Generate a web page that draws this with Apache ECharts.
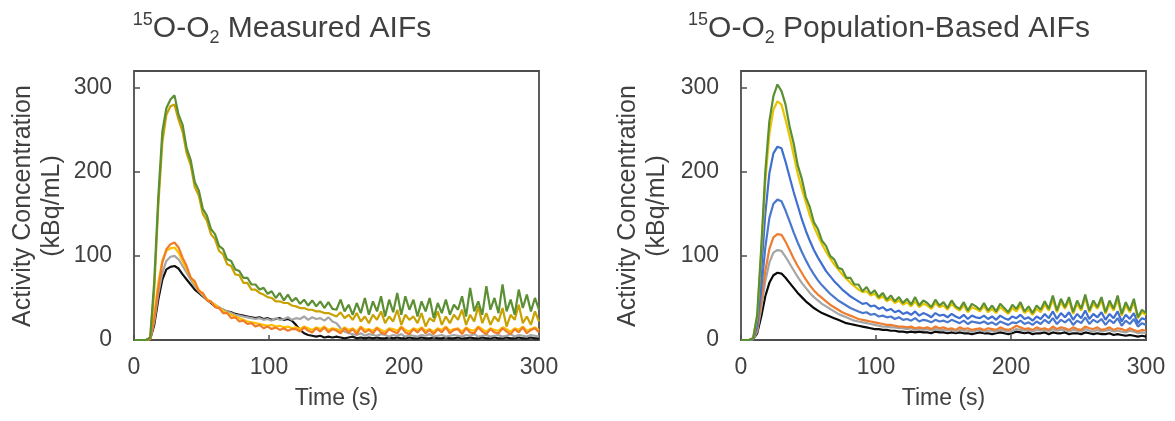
<!DOCTYPE html>
<html>
<head>
<meta charset="utf-8">
<script src="https://cdn.jsdelivr.net/npm/echarts@6/dist/echarts.min.js"></script>
<style>
  html, body { margin: 0; padding: 0; background: #fff; }
  #main { width: 1175px; height: 421px; }
</style>
</head>
<body>
<div id="main"></div>
<script>
// time points (s), every 3 s
const times = [
  0, 3, 6, 9, 12, 15, 18, 21, 24, 27,
  30, 33, 36, 39, 42, 45, 48, 51, 54, 57,
  60, 63, 66, 69, 72, 75, 78, 81, 84, 87,
  90, 93, 96, 99, 102, 105, 108, 111, 114, 117,
  120, 123, 126, 129, 132, 135, 138, 141, 144, 147,
  150, 153, 156, 159, 162, 165, 168, 171, 174, 177,
  180, 183, 186, 189, 192, 195, 198, 201, 204, 207,
  210, 213, 216, 219, 222, 225, 228, 231, 234, 237,
  240, 243, 246, 249, 252, 255, 258, 261, 264, 267,
  270, 273, 276, 279, 282, 285, 288, 291, 294, 297,
  300
];

// measured AIFs (kBq/mL)
const mBlack = [
  0, 0, 0, 0, 1, 18, 48, 72, 84, 87,
  88, 85, 78, 72, 66, 60, 56, 52, 48, 44,
  40, 38, 36, 34, 33, 31, 30, 29, 28, 27,
  26, 27, 25, 26, 24, 25, 26, 24, 25, 23,
  18, 12, 8, 6, 5, 4, 5, 3, 4, 3,
  4, 3, 2, 3, 4, 2, 3, 2, 3, 2,
  3, 2, 2, 3, 2, 3, 2, 2, 3, 2,
  2, 3, 2, 2, 3, 2, 2, 3, 2, 2,
  3, 2, 2, 3, 2, 2, 3, 2, 2, 3,
  2, 2, 3, 2, 2, 3, 2, 2, 3, 2,
  2
];
const mGray = [
  0, 0, 0, 0, 1, 22, 55, 80, 94, 99,
  100, 96, 88, 80, 72, 64, 58, 53, 48, 45,
  42, 39, 36, 34, 32, 30, 29, 28, 27, 26,
  25, 26, 24, 25, 23, 26, 24, 25, 27, 24,
  26, 25, 28, 24, 27, 25, 26, 23, 27, 22,
  20, 14, 10, 8, 7, 6, 8, 5, 7, 6,
  5, 7, 6, 4, 6, 5, 7, 4, 6, 5,
  4, 6, 5, 7, 4, 5, 6, 4, 5, 6,
  5, 4, 6, 5, 7, 4, 5, 6, 4, 5,
  6, 4, 5, 7, 4, 6, 5, 4, 6, 5,
  4
];
const mYellow = [
  0, 0, 0, 0, 2, 30, 68, 95, 106, 109,
  110, 104, 94, 84, 75, 67, 60, 54, 49, 45,
  42, 38, 35, 32, 30, 28, 26, 24, 22, 21,
  20, 19, 18, 17, 18, 16, 17, 15, 16, 14,
  15, 13, 16, 14, 12, 15, 13, 16, 12, 14,
  13, 11, 15, 12, 14, 10, 16, 12, 13, 11,
  15, 12, 10, 14, 13, 11, 16, 12, 10, 14,
  12, 15, 11, 13, 10, 14, 12, 16, 11, 13,
  14, 10, 15, 12, 11, 16, 13, 10, 14, 12,
  11, 15, 13, 10, 14, 12, 16, 11, 13, 15,
  12
];
const mOrange = [
  0, 0, 0, 0, 1, 25, 62, 92, 108, 114,
  116, 110, 98, 88, 74, 70, 58, 56, 47, 46,
  39, 38, 32, 32, 26, 27, 22, 23, 19, 20,
  16, 18, 14, 16, 13, 15, 12, 14, 11, 13,
  13, 10, 15, 11, 9, 14, 10, 15, 9, 13,
  11, 8, 14, 9, 13, 7, 15, 9, 12, 8,
  14, 9, 7, 13, 10, 8, 15, 9, 7, 13,
  9, 14, 8, 12, 7, 13, 9, 15, 8, 12,
  13, 7, 14, 9, 8, 15, 10, 7, 13, 9,
  8, 14, 10, 7, 13, 9, 15, 8, 12, 14,
  9
];
const mGold = [
  0, 0, 0, 0, 2, 60, 160, 235, 268, 278,
  280, 262, 248, 222, 208, 182, 172, 150, 142, 126,
  120, 106, 102, 90, 88, 78, 77, 68, 68, 60,
  60, 56, 54, 51, 50, 46, 46, 44, 44, 41,
  40, 38, 38, 36, 36, 34, 34, 32, 32, 30,
  28, 33, 26, 30, 24, 32, 22, 28, 20, 30,
  24, 34, 20, 28, 22, 36, 18, 30, 24, 28,
  20, 32, 16, 26, 22, 34, 18, 28, 20, 30,
  24, 36, 18, 30, 22, 40, 20, 32, 18, 28,
  22, 38, 16, 30, 24, 42, 20, 28, 18, 34,
  22
];
const mGreen = [
  0, 0, 0, 0, 3, 70, 170, 248, 276, 286,
  291, 268, 256, 228, 214, 188, 178, 156, 148, 132,
  126, 112, 108, 96, 94, 84, 82, 74, 74, 66,
  66, 60, 62, 55, 58, 50, 56, 47, 54, 46,
  50, 43, 48, 41, 47, 40, 46, 38, 45, 37,
  36, 48, 34, 42, 30, 44, 32, 50, 30, 46,
  34, 52, 28, 48, 33, 56, 30, 52, 36, 48,
  28, 46, 34, 50, 26, 44, 32, 48, 30, 42,
  36, 52, 28, 62, 34, 46, 30, 64, 36, 50,
  32, 66, 34, 48, 30, 60, 38, 54, 34, 50,
  36
];

// population-based AIFs (kBq/mL)
const pBlack = [
  0, 0, 0, 1, 8, 28, 52, 68, 77, 80,
  79, 74, 68, 62, 56, 51, 46, 42, 38, 35,
  32, 30, 28, 26, 24, 22, 20, 19, 18, 17,
  16, 15, 14, 13, 13, 12, 12, 11, 11, 10,
  10, 9, 10, 9, 10, 9, 9, 8, 10, 9,
  9, 8, 9, 8, 9, 8, 8, 7, 8, 9,
  8, 8, 7, 8, 9, 8, 7, 8, 10, 9,
  8, 9, 7, 8, 8, 9, 7, 9, 8, 8,
  9, 7, 8, 8, 7, 9, 8, 7, 8, 7,
  7, 8, 6, 7, 6, 5, 6, 5, 4, 5,
  4
];
const pGray = [
  0, 0, 0, 1, 10, 38, 70, 92, 104, 107,
  106, 99, 91, 83, 75, 68, 62, 56, 51, 47,
  43, 40, 37, 34, 31, 29, 27, 25, 23, 22,
  21, 20, 19, 18, 17, 16, 16, 15, 15, 14,
  14, 13, 14, 12, 13, 12, 13, 11, 13, 12,
  12, 11, 12, 10, 12, 11, 11, 10, 11, 12,
  10, 11, 11, 10, 12, 11, 10, 11, 13, 12,
  11, 12, 10, 12, 11, 12, 10, 13, 11, 12,
  12, 10, 12, 11, 10, 13, 11, 10, 12, 10,
  11, 12, 10, 11, 10, 9, 11, 10, 8, 9,
  8
];
const pOrange = [
  0, 0, 0, 1, 12, 45, 82, 108, 122, 126,
  125, 117, 107, 97, 88, 80, 72, 65, 59, 54,
  50, 46, 42, 39, 36, 33, 31, 29, 27, 25,
  24, 23, 22, 21, 20, 19, 18, 18, 17, 16,
  16, 15, 16, 14, 15, 14, 15, 13, 16, 14,
  15, 13, 14, 12, 15, 13, 14, 12, 13, 14,
  12, 14, 13, 12, 15, 13, 12, 14, 17, 15,
  13, 14, 12, 15, 13, 14, 12, 16, 13, 15,
  14, 12, 15, 13, 12, 16, 14, 13, 15, 12,
  13, 15, 12, 14, 13, 11, 14, 12, 10, 12,
  11
];
const pBlue2 = [
  0, 0, 0, 1, 16, 60, 110, 145, 162, 167,
  165, 154, 141, 128, 116, 105, 95, 86, 78, 71,
  65, 60, 55, 51, 47, 44, 41, 38, 36, 34,
  32, 33, 30, 31, 28, 29, 27, 28, 25, 27,
  24, 25, 23, 26, 22, 24, 23, 21, 24, 22,
  23, 21, 24, 22, 20, 23, 19, 22, 21, 20,
  22, 19, 21, 18, 22, 20, 18, 21, 20, 23,
  19, 21, 18, 22, 19, 24, 20, 26, 19, 24,
  21, 25, 18, 23, 20, 27, 19, 24, 21, 25,
  18, 24, 20, 26, 17, 23, 19, 25, 16, 20,
  18
];
const pBlue1 = [
  0, 0, 0, 2, 22, 82, 150, 198, 222, 230,
  228, 212, 194, 176, 160, 144, 130, 118, 107, 98,
  90, 82, 76, 70, 65, 60, 56, 52, 49, 46,
  43, 44, 40, 41, 37, 39, 35, 37, 33, 35,
  31, 33, 30, 34, 29, 32, 30, 27, 32, 29,
  30, 27, 31, 28, 26, 30, 25, 29, 27, 26,
  29, 25, 28, 24, 29, 26, 24, 28, 26, 30,
  25, 27, 23, 28, 25, 31, 26, 34, 25, 32,
  27, 33, 24, 31, 26, 35, 25, 31, 27, 33,
  24, 31, 26, 34, 22, 30, 25, 32, 20, 26,
  24
];
const pYellow = [
  0, 0, 0, 2, 28, 104, 188, 245, 274, 284,
  280, 262, 242, 220, 198, 180, 164, 148, 135, 124,
  114, 105, 97, 90, 84, 78, 73, 68, 64, 60,
  57, 58, 53, 55, 49, 52, 46, 49, 44, 47,
  42, 45, 40, 46, 39, 43, 41, 37, 44, 39,
  41, 36, 43, 38, 35, 41, 33, 39, 37, 34,
  40, 33, 37, 32, 39, 35, 31, 38, 34, 41,
  32, 36, 30, 37, 33, 42, 35, 48, 33, 45,
  37, 47, 31, 43, 35, 50, 33, 43, 37, 47,
  31, 43, 35, 48, 29, 41, 33, 45, 26, 33,
  30
];
const pGreen = [
  0, 0, 0, 2, 30, 110, 200, 260, 290, 304,
  296, 280, 254, 234, 208, 192, 170, 158, 140, 132,
  118, 112, 100, 96, 86, 84, 74, 74, 66, 66,
  58, 63, 55, 59, 51, 56, 48, 53, 46, 51,
  44, 49, 42, 51, 41, 47, 44, 39, 48, 41,
  45, 38, 47, 40, 37, 45, 35, 43, 40, 36,
  44, 35, 41, 34, 43, 38, 33, 42, 37, 45,
  34, 40, 32, 41, 36, 46, 37, 53, 35, 49,
  39, 51, 33, 47, 37, 54, 35, 47, 39, 51,
  33, 47, 37, 53, 31, 45, 35, 49, 27, 36,
  32
];

const xTicks = [0, 100, 200, 300];

const leftCurves = [
  { data: mBlack, color: '#111111' },
  { data: mGray, color: '#a5a5a5' },
  { data: mYellow, color: '#ffc000' },
  { data: mOrange, color: '#f07c28' },
  { data: mGold, color: '#c8a200' },
  { data: mGreen, color: '#5b8f33' }
];
const rightCurves = [
  { data: pBlack, color: '#0a0a0a' },
  { data: pGray, color: '#a5a5a5' },
  { data: pOrange, color: '#ed7d31' },
  { data: pBlue2, color: '#4a78cc' },
  { data: pBlue1, color: '#3f6fd0' },
  { data: pYellow, color: '#e9c400' },
  { data: pGreen, color: '#5b8f33' }
];

const FONT = '"Liberation Sans", Arial, sans-serif';
const TXT = '#404040';
const FRAME = '#4d4d4d';

function pairs(values) {
  return times.map((t, i) => [t, values[i]]);
}

function makeSeries(curves, idx) {
  return curves.map(c => ({
    type: 'line',
    xAxisIndex: idx,
    yAxisIndex: idx,
    data: pairs(c.data),
    showSymbol: false,
    silent: true,
    lineStyle: { width: 2.2, color: c.color },
    itemStyle: { color: c.color }
  }));
}

function makeX(idx) {
  return {
    type: 'value', gridIndex: idx, min: 0, max: 300, interval: 100,
    name: 'Time (s)', nameLocation: 'middle', nameGap: 47,
    nameTextStyle: { fontSize: 23, color: TXT, fontFamily: FONT },
    axisLine: { show: false },
    axisTick: { show: true, inside: true, length: 5, lineStyle: { color: FRAME, width: 1.5 } },
    splitLine: { show: false },
    axisLabel: {
      fontSize: 23, color: TXT, fontFamily: FONT, margin: 16,
      formatter: v => xTicks.indexOf(v) >= 0 ? String(v) : ''
    }
  };
}

function makeY(idx) {
  return {
    type: 'value', gridIndex: idx, min: 0, max: 320, interval: 100,
    axisLine: { show: false },
    axisTick: { show: true, inside: true, length: 6, lineStyle: { color: FRAME, width: 1.5 } },
    splitLine: { show: false },
    axisLabel: { fontSize: 23, color: TXT, fontFamily: FONT, margin: 22, showMaxLabel: false }
  };
}

function titleText(x, rest) {
  return {
    type: 'text', x: x, y: 29,
    style: {
      text: '{sup|15}O-O{sub|2} ' + rest,
      fontSize: 30, fontFamily: FONT, fill: TXT,
      align: 'center', verticalAlign: 'middle',
      textAlign: 'center', textVerticalAlign: 'middle',
      rich: {
        sup: { fontSize: 18, fontFamily: FONT, fill: TXT, verticalAlign: 'top', lineHeight: 36 },
        sub: { fontSize: 18, fontFamily: FONT, fill: TXT, verticalAlign: 'bottom', lineHeight: 36 }
      }
    }
  };
}

function yName(x, text) {
  return {
    type: 'text', x: x, y: 206, rotation: Math.PI / 2,
    style: {
      text: text, fontSize: 25, fontFamily: FONT, fill: TXT,
      align: 'center', verticalAlign: 'middle',
      textAlign: 'center', textVerticalAlign: 'middle'
    }
  };
}

const chart = echarts.init(document.getElementById('main'), null, { renderer: 'canvas' });
chart.setOption({
  animation: false,
  backgroundColor: '#ffffff',
  grid: [
    { left: 134, top: 71, width: 405, height: 269, show: true, borderColor: FRAME, borderWidth: 1.8, backgroundColor: 'transparent', containLabel: false, outerBoundsMode: 'none' },
    { left: 741, top: 71, width: 405, height: 269, show: true, borderColor: FRAME, borderWidth: 1.8, backgroundColor: 'transparent', containLabel: false, outerBoundsMode: 'none' }
  ],
  xAxis: [makeX(0), makeX(1)],
  yAxis: [makeY(0), makeY(1)],
  series: makeSeries(leftCurves, 0).concat(makeSeries(rightCurves, 1)),
  graphic: [
    titleText(282, 'Measured AIFs'),
    titleText(889, 'Population-Based AIFs'),
    yName(23, 'Activity Concentration'),
    yName(52, '(kBq/mL)'),
    yName(628, 'Activity Concentration'),
    yName(657, '(kBq/mL)')
  ]
});
</script>
</body>
</html>
